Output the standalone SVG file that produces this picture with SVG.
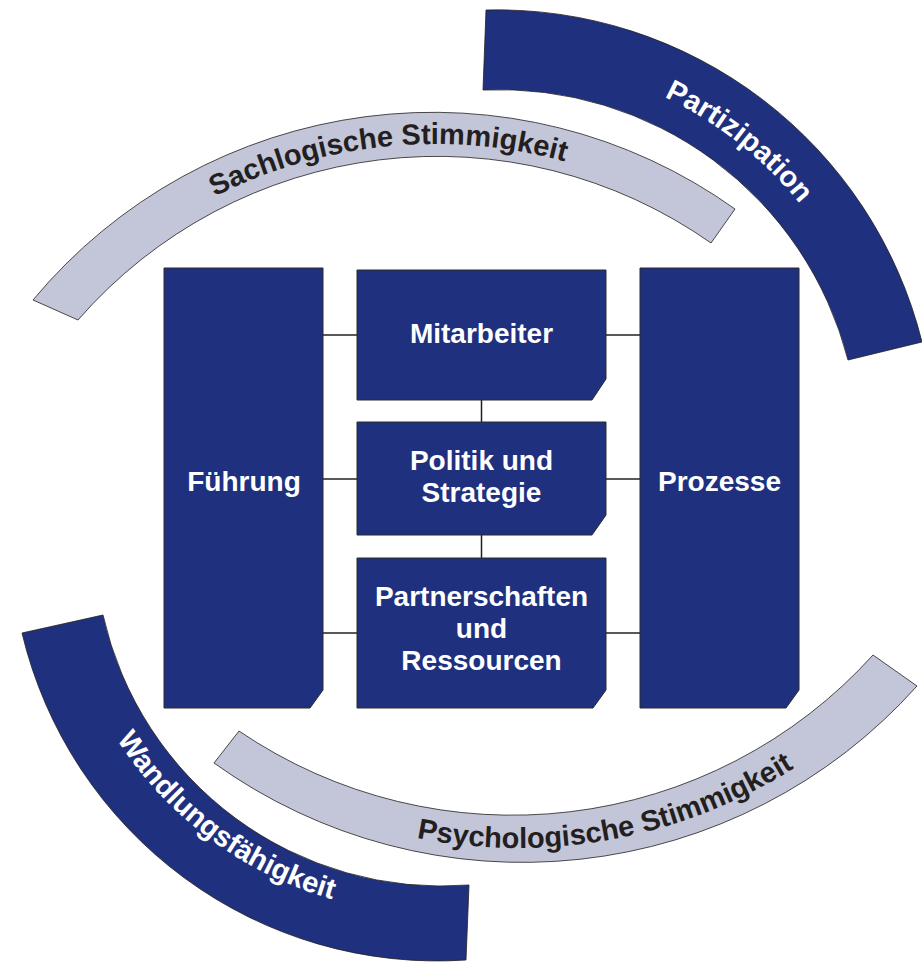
<svg xmlns="http://www.w3.org/2000/svg" width="922" height="962" viewBox="0 0 922 962">
<style>
.dark{fill:#1f317e;stroke:#231f20;stroke-width:0.8}
.light{fill:#c3c6d9;stroke:#231f20;stroke-width:0.8}
.box{fill:#1f317e;stroke:#2a2a2a;stroke-width:1}
.bt{font-family:"Liberation Sans",Arial,sans-serif;font-weight:bold;font-size:28px;fill:#ffffff;text-anchor:middle}
.at{font-family:"Liberation Sans",Arial,sans-serif;font-weight:bold;font-size:29px;text-anchor:middle}
.conn{stroke:#231f20;stroke-width:1.5;fill:none}
</style>
<defs>
<path id="pSach" d="M 150.3 235.7 A 488 488 0 0 1 635.8 187.2"/>
<path id="pPart" d="M 549.1 62.5 A 389 389 0 0 1 856.9 300.4"/>
<path id="pWand" d="M 87.3 683.9 A 380 380 0 0 0 393.5 911.5"/>
<path id="pPsy" d="M 345.4 818.3 A 517 517 0 0 0 853.7 724.1"/>
</defs>
<rect width="922" height="962" fill="#ffffff"/>

<g id="partizipation">
<path class="dark" d="M 486 10 A 438 438 0 0 1 922 342 L 848 360 A 360 360 0 0 0 483 90 Z"/>
<text class="at" fill="#ffffff"><textPath href="#pPart" startOffset="51%">Partizipation</textPath></text>
</g>

<g id="sachlogische-stimmigkeit">
<path class="light" d="M 33 300 A 520 520 0 0 1 735 209 L 711 243 A 476 476 0 0 0 78 320 Z"/>
<text class="at" fill="#231f20"><textPath href="#pSach" startOffset="50%">Sachlogische Stimmigkeit</textPath></text>
</g>

<g id="wandlungsfaehigkeit">
<path class="dark" d="M 22 633 A 427 427 0 0 0 466 960 L 469 885 A 347 347 0 0 1 103 615 Z"/>
<text class="at" fill="#ffffff"><textPath href="#pWand" startOffset="50%">Wandlungsfähigkeit</textPath></text>
</g>

<g id="psychologische-stimmigkeit">
<path class="light" d="M 214 763 A 529 529 0 0 0 917 686 L 873 655 A 486 486 0 0 1 239 731 Z"/>
<text class="at" fill="#231f20"><textPath href="#pPsy" startOffset="50%">Psychologische Stimmigkeit</textPath></text>
</g>

<g id="connectors">
<line class="conn" x1="323" y1="335" x2="357" y2="335"/>
<line class="conn" x1="323" y1="479" x2="357" y2="479"/>
<line class="conn" x1="323" y1="633" x2="357" y2="633"/>
<line class="conn" x1="606" y1="335" x2="640" y2="335"/>
<line class="conn" x1="606" y1="479" x2="640" y2="479"/>
<line class="conn" x1="606" y1="633" x2="640" y2="633"/>
<line class="conn" x1="481.5" y1="400" x2="481.5" y2="422"/>
<line class="conn" x1="481.5" y1="535" x2="481.5" y2="558"/>
</g>

<g id="fuehrung">
<path class="box" d="M 164 268 H 323 V 690 L 310 708 H 164 Z"/>
<text class="bt" x="244" y="491">Führung</text>
</g>

<g id="mitarbeiter">
<path class="box" d="M 357 270 H 606 V 379 L 592 400 H 357 Z"/>
<text class="bt" x="481.5" y="343">Mitarbeiter</text>
</g>

<g id="politik-und-strategie">
<path class="box" d="M 357 422 H 606 V 515 L 592 535 H 357 Z"/>
<text class="bt" x="481.5" y="470">Politik und</text>
<text class="bt" x="481.5" y="502">Strategie</text>
</g>

<g id="partnerschaften-und-ressourcen">
<path class="box" d="M 357 558 H 606 V 690 L 593 708 H 357 Z"/>
<text class="bt" x="481.5" y="606">Partnerschaften</text>
<text class="bt" x="481.5" y="638">und</text>
<text class="bt" x="481.5" y="670">Ressourcen</text>
</g>

<g id="prozesse">
<path class="box" d="M 640 268 H 799 V 690 L 786 708 H 640 Z"/>
<text class="bt" x="719.5" y="491">Prozesse</text>
</g>
</svg>
